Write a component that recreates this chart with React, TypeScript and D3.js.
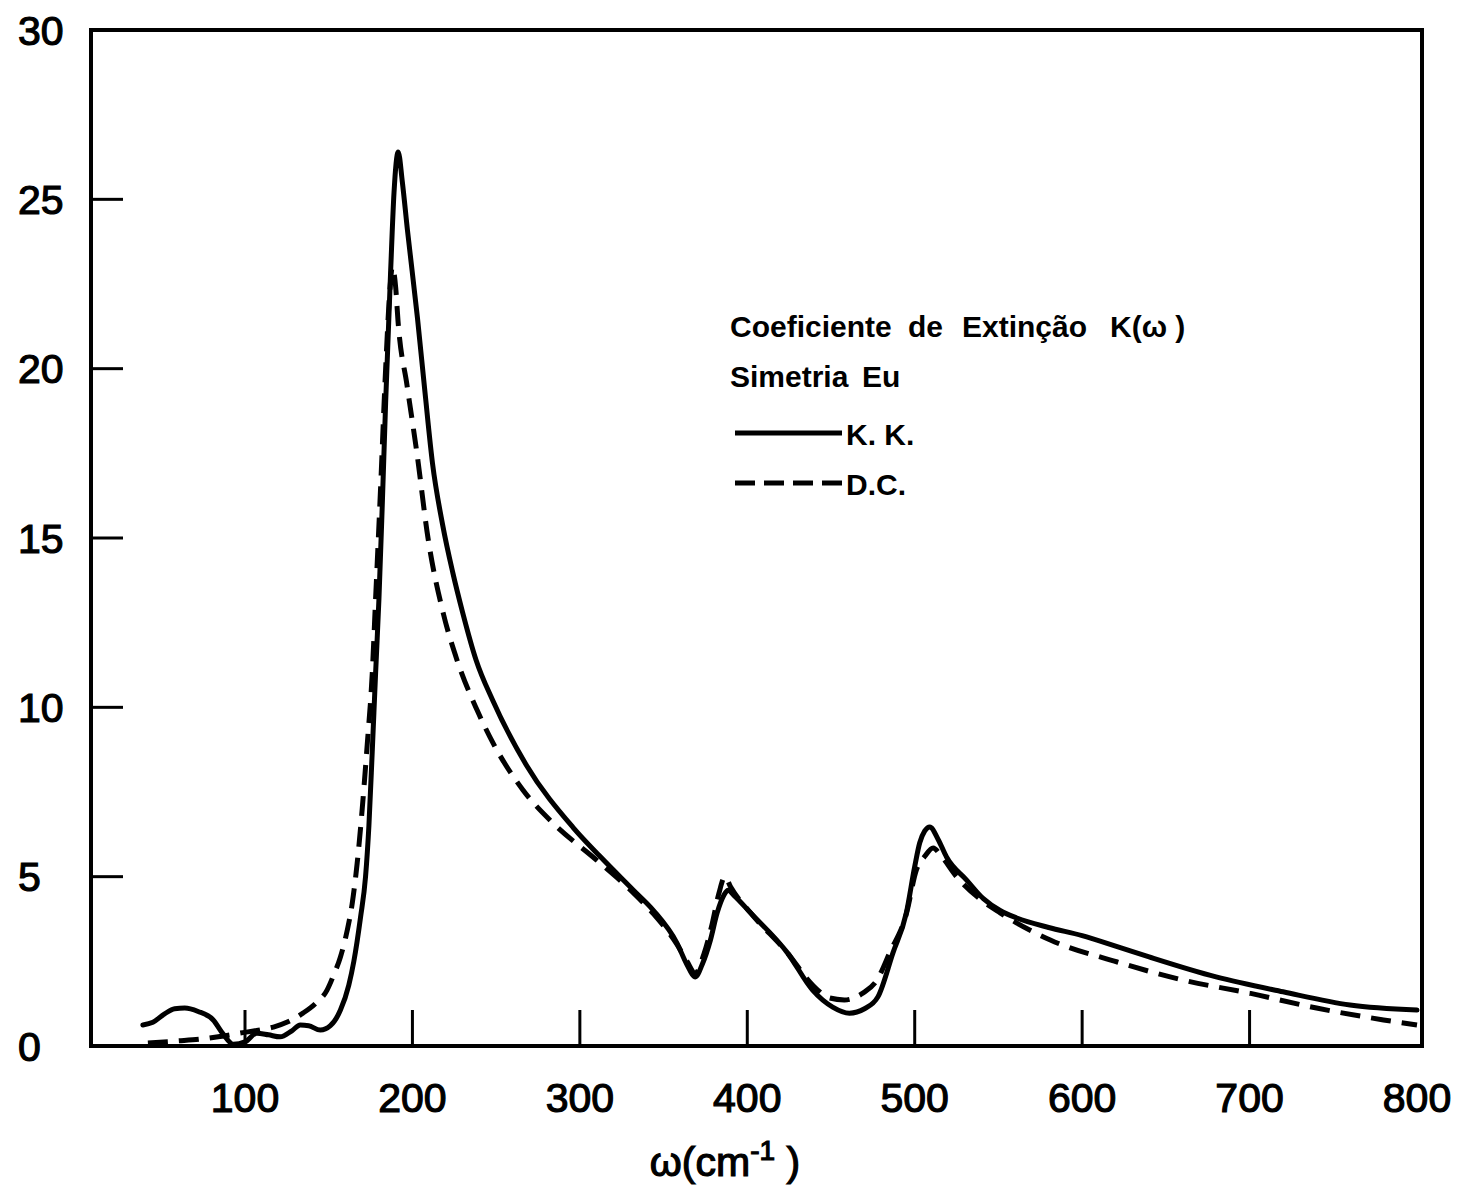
import React from "react";
import * as d3 from "d3";

// Extinction coefficient K(ω), Eu symmetry: Kramers-Kronig (K.K.) vs dispersion (D.C.) analysis
const kkOmega = [39, 45, 52, 58, 64, 72, 81, 87, 93, 100, 107, 114, 121, 128, 133, 138, 145, 151, 157, 162, 165, 169, 172, 174, 176, 178, 180, 182, 184, 187, 189, 191.5, 194, 197, 203, 207.5, 212, 218, 224, 230, 238, 248, 268, 296, 312, 332, 344, 358, 364, 369, 373, 378, 382, 386, 388.5, 392, 402, 424, 439, 451, 461, 470, 478, 487, 495, 500, 503, 506, 509, 514, 519, 531, 541, 551, 561, 580, 600, 620, 640, 680, 720, 760, 800];
const kkValues = [0.62, 0.7, 0.95, 1.1, 1.12, 1.02, 0.77, 0.35, 0.05, 0.12, 0.38, 0.33, 0.27, 0.45, 0.62, 0.6, 0.47, 0.6, 1.06, 1.8, 2.5, 3.8, 5.0, 6.5, 8.7, 11.0, 13.2, 16.0, 19.0, 22.9, 25.2, 26.4, 25.5, 24.1, 21.5, 19.3, 17.2, 15.4, 14.0, 12.8, 11.4, 10.2, 8.3, 6.45, 5.6, 4.6, 4.0, 3.04, 2.4, 2.04, 2.4, 3.13, 3.93, 4.45, 4.6, 4.45, 3.93, 2.75, 1.65, 1.15, 0.97, 1.1, 1.45, 2.75, 3.93, 5.3, 6.0, 6.35, 6.47, 6.1, 5.58, 4.9, 4.35, 4.0, 3.78, 3.5, 3.26, 2.95, 2.63, 2.04, 1.6, 1.21, 1.06];

const dcOmega = [42, 60, 73, 85, 97, 107, 117, 126, 134.6, 142, 149, 153, 157, 161, 164, 167, 170, 173, 176, 178, 181, 184, 186.5, 188, 190, 191.4, 196.8, 202.7, 209.3, 218.3, 226.6, 238.6, 248.1, 266, 284, 310, 332, 344, 358, 364, 369, 374, 379, 383, 386.7, 390, 402, 424, 439, 449, 458, 469, 477.5, 485, 495, 501, 506, 511, 516, 525, 540, 551, 581, 621, 660, 700, 740, 780, 800];
const dcValues = [0.09, 0.15, 0.2, 0.28, 0.38, 0.46, 0.56, 0.72, 0.97, 1.25, 1.65, 2.1, 2.63, 3.4, 4.2, 5.4, 7.0, 8.9, 11.0, 13.2, 16.5, 20.0, 22.3, 23.0, 22.4, 21.4, 19.5, 17.5, 15.0, 12.8, 11.4, 9.92, 8.95, 7.56, 6.58, 5.49, 4.52, 3.9, 3.0, 2.5, 2.15, 2.7, 3.6, 4.5, 5.0, 4.7, 3.93, 2.75, 1.8, 1.42, 1.36, 1.56, 1.95, 2.75, 3.9, 5.2, 5.6, 5.85, 5.6, 5.0, 4.3, 3.93, 3.13, 2.48, 1.95, 1.56, 1.12, 0.77, 0.62];

const xTicks = [100, 200, 300, 400, 500, 600, 700, 800];
const yTicks = [0, 5, 10, 15, 20, 25, 30];

const titleWords = ["Coeficiente", "de", "Extinção", "K(ω )"];
const symmetryWords = ["Simetria", "Eu"];
const legendLabels = ["K. K.", "D.C."];

const W = 1464;
const H = 1187;
const frame = { left: 91, top: 30, right: 1422, bottom: 1046 };

const x = d3.scaleLinear().domain([100, 800]).range([245, 1417]);
const y = d3.scaleLinear().domain([0, 30]).range([frame.bottom, frame.top]);

const line = d3
  .line<[number, number]>()
  .x((d) => x(d[0]))
  .y((d) => y(d[1]))
  .curve(d3.curveMonotoneX);

const kkPts: [number, number][] = kkOmega.map((w, i) => [w, kkValues[i]]);
const dcPts: [number, number][] = dcOmega.map((w, i) => [w, dcValues[i]]);

const font = "'Liberation Sans', Arial, sans-serif";

// word start positions for the legend heading lines
const titleX = [730, 908, 962, 1110];
const symX = [730, 862];

export default function App() {
  return (
    <svg
      width={W}
      height={H}
      viewBox={`0 0 ${W} ${H}`}
      style={{ position: "absolute", left: 0, top: 0, background: "#fff" }}
    >
      <rect x={0} y={0} width={W} height={H} fill="#fff" />
      {/* plot frame */}
      <rect
        x={frame.left}
        y={frame.top}
        width={frame.right - frame.left}
        height={frame.bottom - frame.top}
        fill="none"
        stroke="#000"
        strokeWidth={4}
      />
      {/* y ticks (inward) and labels */}
      {yTicks.map((t) => (
        <g key={`y${t}`}>
          {t > 0 && t < 30 && (
            <line x1={frame.left} x2={frame.left + 32} y1={y(t)} y2={y(t)} stroke="#000" strokeWidth={3} />
          )}
          <text
            x={18}
            y={y(t)}
            dy="0.36em"
            fontFamily={font}
            fontSize={41}
            fill="#000"
            stroke="#000"
            strokeWidth={1.2}
          >
            {t}
          </text>
        </g>
      ))}
      {/* x ticks (inward) and labels */}
      {xTicks.map((t) => (
        <g key={`x${t}`}>
          {t < 800 && (
            <line x1={x(t)} x2={x(t)} y1={frame.bottom} y2={frame.bottom - 36} stroke="#000" strokeWidth={3} />
          )}
          <text
            x={x(t)}
            y={1112}
            textAnchor="middle"
            fontFamily={font}
            fontSize={41}
            fill="#000"
            stroke="#000"
            strokeWidth={1.2}
          >
            {t}
          </text>
        </g>
      ))}
      {/* x axis title */}
      <text x={725} y={1176} textAnchor="middle" fontFamily={font} fontSize={41} fill="#000" stroke="#000" strokeWidth={1.2}>
        ω(cm
        <tspan dy={-16} fontSize={28}>-1</tspan>
        <tspan dy={16}> )</tspan>
      </text>

      {/* curves */}
      <path d={line(kkPts) ?? ""} fill="none" stroke="#000" strokeWidth={5} strokeLinejoin="round" strokeLinecap="round" />
      <path
        d={line(dcPts) ?? ""}
        fill="none"
        stroke="#000"
        strokeWidth={5}
        strokeDasharray="20 11"
        strokeLinejoin="round"
      />

      {/* legend */}
      <g fontFamily={font} fontWeight="bold" fill="#000" fontSize={30}>
        {titleWords.map((w, i) => (
          <text key={w} x={titleX[i]} y={337}>{w}</text>
        ))}
        {symmetryWords.map((w, i) => (
          <text key={w} x={symX[i]} y={387}>{w}</text>
        ))}
        <line x1={735} x2={842} y1={433} y2={433} stroke="#000" strokeWidth={5} />
        <text x={846} y={445}>{legendLabels[0]}</text>
        <line x1={735} x2={842} y1={483} y2={483} stroke="#000" strokeWidth={5} strokeDasharray="20 9" />
        <text x={846} y={495}>{legendLabels[1]}</text>
      </g>
    </svg>
  );
}
